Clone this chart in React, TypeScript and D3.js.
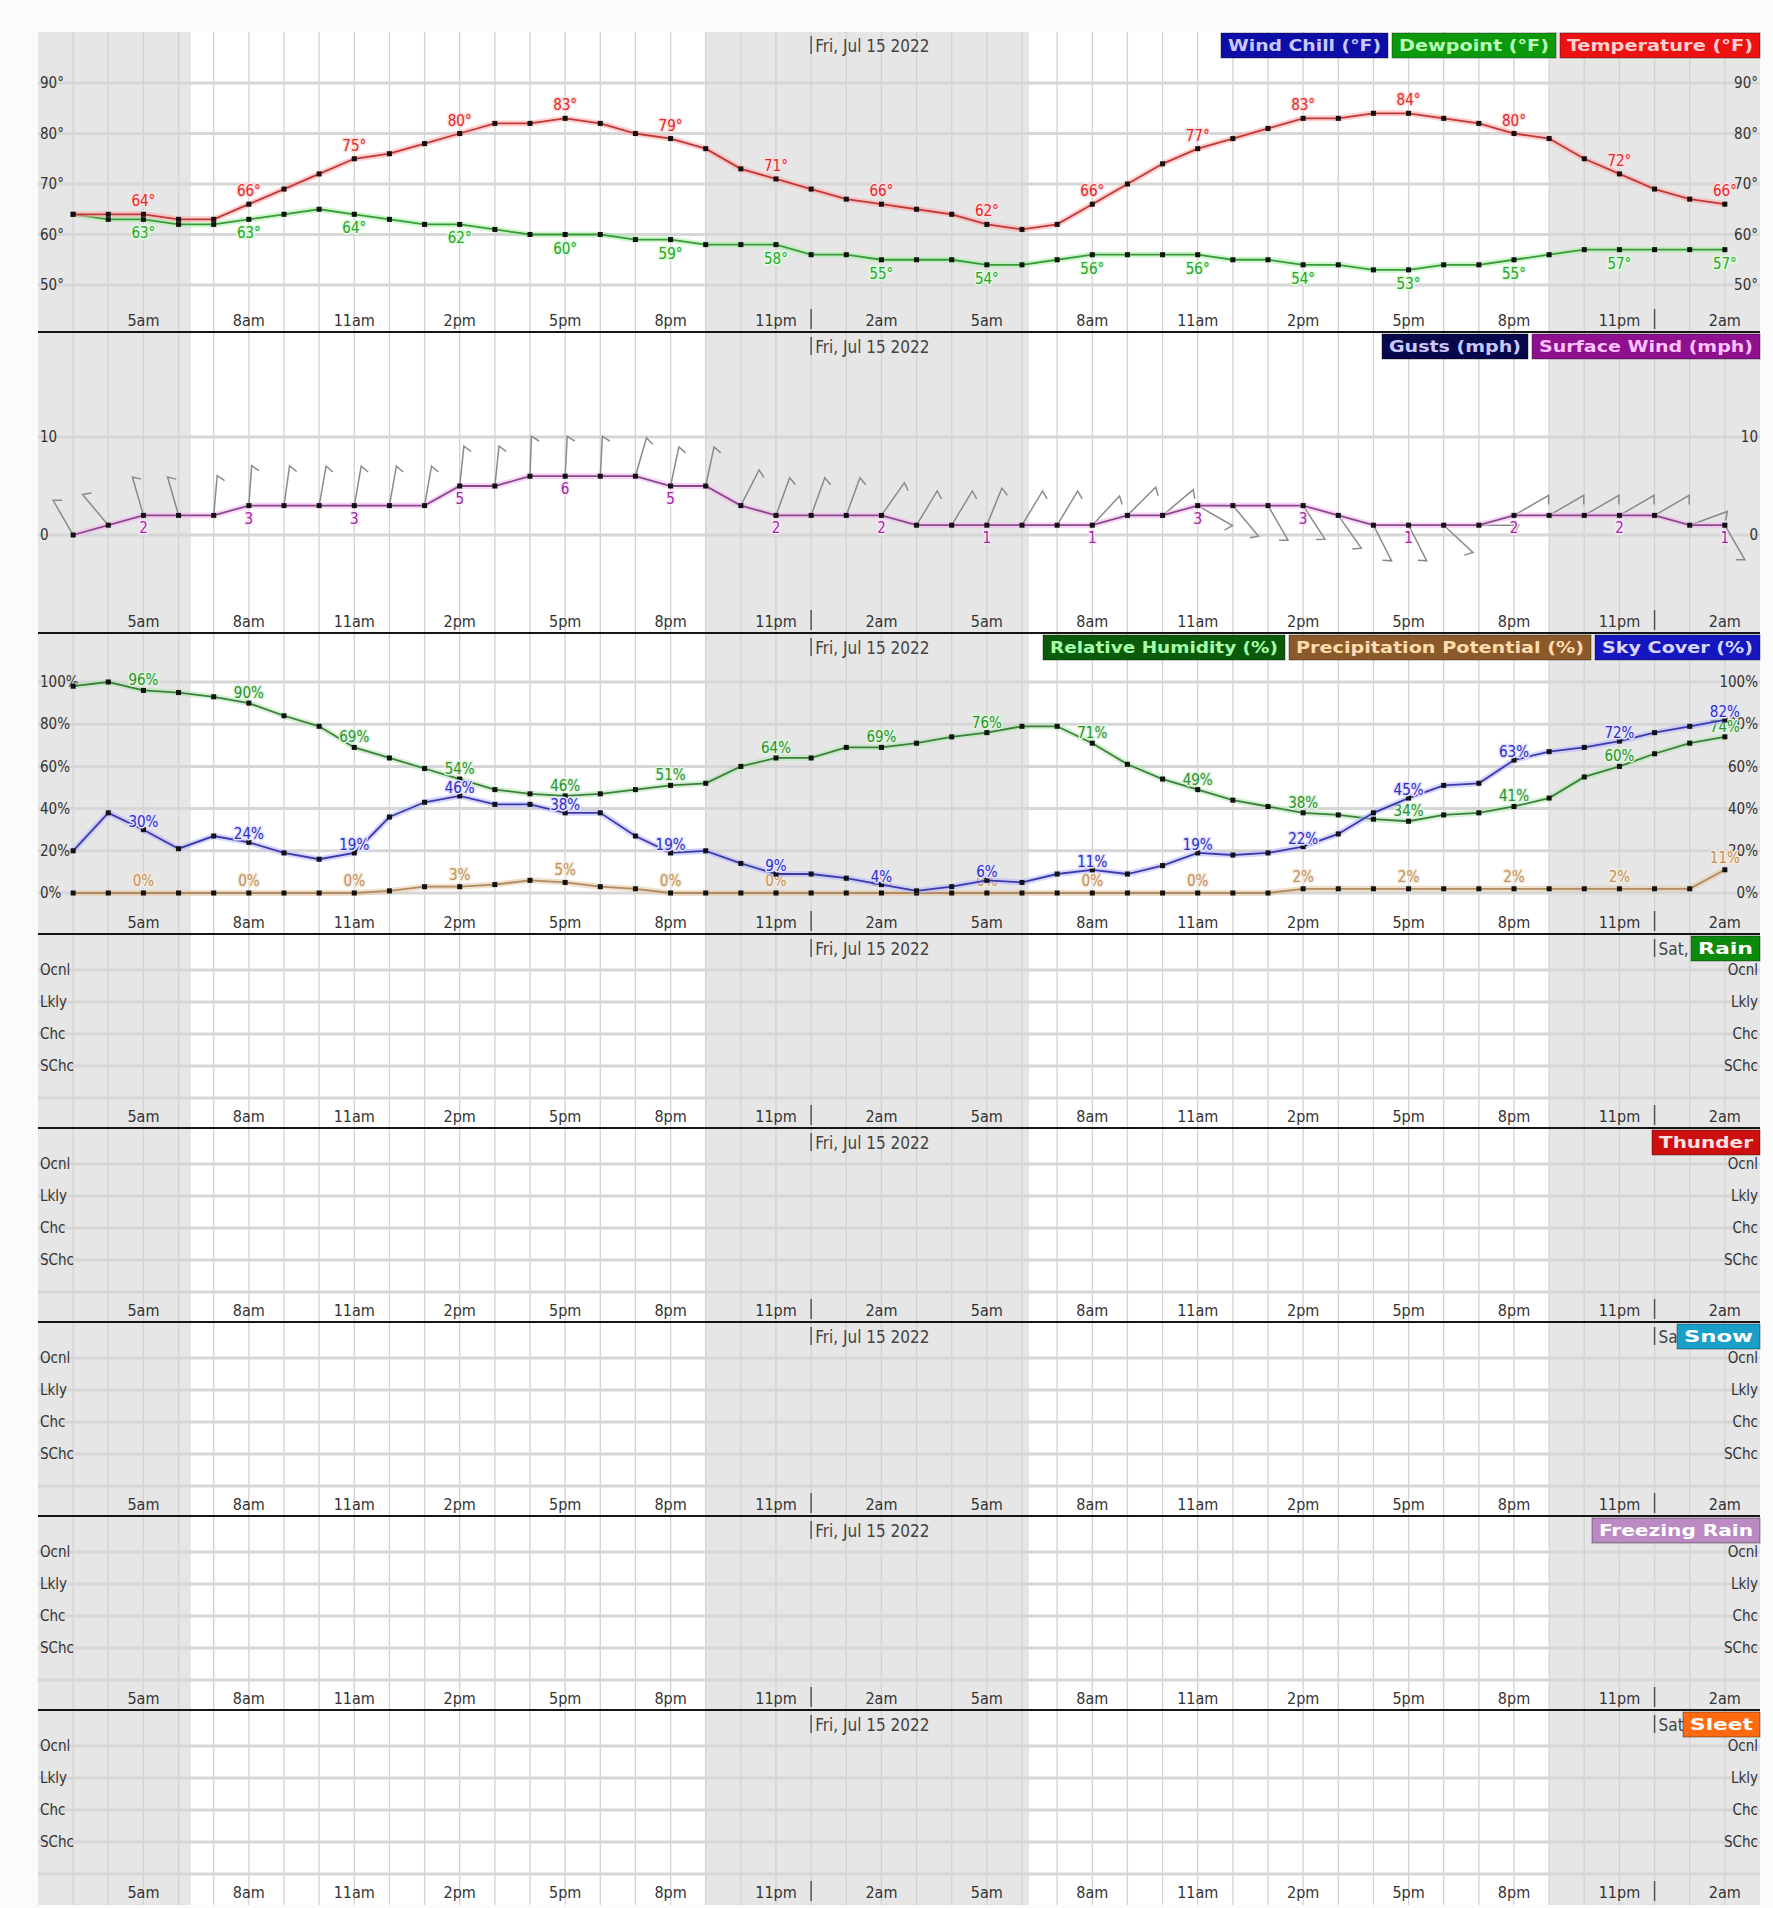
import React from "react";
import * as d3 from "d3";

// ---------- DATA (hourly, index 0 = 3am Fri) ----------
const temperature = [64, 64, 64, 63, 63, 66, 69, 72, 75, 76, 78, 80, 82, 82, 83, 82, 80, 79, 77, 73, 71, 69, 67, 66, 65, 64, 62, 61, 62, 66, 70, 74, 77, 79, 81, 83, 83, 84, 84, 83, 82, 80, 79, 75, 72, 69, 67, 66];
const dewpoint = [64, 63, 63, 62, 62, 63, 64, 65, 64, 63, 62, 62, 61, 60, 60, 60, 59, 59, 58, 58, 58, 56, 56, 55, 55, 55, 54, 54, 55, 56, 56, 56, 56, 55, 55, 54, 54, 53, 53, 54, 54, 55, 56, 57, 57, 57, 57, 57];
const windSpeed = [0, 1, 2, 2, 2, 3, 3, 3, 3, 3, 3, 5, 5, 6, 6, 6, 6, 5, 5, 3, 2, 2, 2, 2, 1, 1, 1, 1, 1, 1, 2, 2, 3, 3, 3, 3, 2, 1, 1, 1, 1, 2, 2, 2, 2, 2, 1, 1];
const windDirection = [330, 320, 344, 344, 5, 4, 8, 10, 10, 10, 10, 6, 6, 2, 3, 3, 16, 12, 12, 27, 20, 20, 20, 35, 31, 31, 22, 31, 31, 43, 45, 50, 120, 140, 150, 147, 145, 153, 153, 133, 90, 60, 60, 60, 60, 60, 70, 150];
const humidity = [98, 100, 96, 95, 93, 90, 84, 79, 69, 64, 59, 54, 49, 47, 46, 47, 49, 51, 52, 60, 64, 64, 69, 69, 71, 74, 76, 79, 79, 71, 61, 54, 49, 44, 41, 38, 37, 35, 34, 37, 38, 41, 45, 55, 60, 66, 71, 74];
const skyCover = [20, 38, 30, 21, 27, 24, 19, 16, 19, 36, 43, 46, 42, 42, 38, 38, 27, 19, 20, 14, 9, 9, 7, 4, 1, 3, 6, 5, 9, 11, 9, 13, 19, 18, 19, 22, 28, 38, 45, 51, 52, 63, 67, 69, 72, 76, 79, 82];
const precipPotential = [0, 0, 0, 0, 0, 0, 0, 0, 0, 1, 3, 3, 4, 6, 5, 3, 2, 0, 0, 0, 0, 0, 0, 0, 0, 0, 0, 0, 0, 0, 0, 0, 0, 0, 0, 2, 2, 2, 2, 2, 2, 2, 2, 2, 2, 2, 2, 11];

const tickHours = [2, 5, 8, 11, 14, 17, 20, 23, 26, 29, 32, 35, 38, 41, 44, 47];
const tickLabels = ["5am", "8am", "11am", "2pm", "5pm", "8pm", "11pm", "2am", "5am", "8am", "11am", "2pm", "5pm", "8pm", "11pm", "2am"];
const tempTicks = [50, 60, 70, 80, 90];
const windTicks = [0, 10];
const pctTicks = [0, 20, 40, 60, 80, 100];
const probLevels = ["SChc", "Chc", "Lkly", "Ocnl"];
const nightSpans: [number, number][] = [[-1, 3.35], [18, 27.2], [42, 48]];
const midnights = [21, 45];
const dayTexts = ["Fri, Jul 15 2022", "Sat, Jul 16 2022"];

// ---------- LAYOUT ----------
const W = 1773;
const H = 1908;
const X0 = 38;
const X1 = 1760;
const FONT = "'Liberation Sans Narrow','Arial Narrow','DejaVu Sans Condensed',sans-serif";
const x = d3.scaleLinear().domain([-1, 48]).range([X0, X1]);

type Legend = { label: string; width: number; fill: string; color: string };
type PanelDef = { top: number; h: number; kind: string; legends: Legend[] };

const panels: PanelDef[] = [
  { top: 32, h: 301, kind: "temp", legends: [
    { label: "Wind Chill (°F)", width: 167, fill: "#0d0da8", color: "#c8c8ff" },
    { label: "Dewpoint (°F)", width: 164, fill: "#0c9a0c", color: "#b8ffb8" },
    { label: "Temperature (°F)", width: 200, fill: "#ee1111", color: "#ffd0d0" },
  ] },
  { top: 333, h: 301, kind: "wind", legends: [
    { label: "Gusts (mph)", width: 146, fill: "#07074c", color: "#c8c8ff" },
    { label: "Surface Wind (mph)", width: 228, fill: "#8e108e", color: "#ffc0ff" },
  ] },
  { top: 634, h: 301, kind: "pct", legends: [
    { label: "Relative Humidity (%)", width: 242, fill: "#0b5a0b", color: "#a8ffa8" },
    { label: "Precipitation Potential (%)", width: 302, fill: "#8a5a2a", color: "#ffdcb0" },
    { label: "Sky Cover (%)", width: 165, fill: "#1616c0", color: "#d8d8ff" },
  ] },
  { top: 935, h: 194, kind: "prob", legends: [{ label: "Rain", width: 69, fill: "#0b8a0b", color: "#ffffff" }] },
  { top: 1129, h: 194, kind: "prob", legends: [{ label: "Thunder", width: 108, fill: "#cc1010", color: "#ffe0e0" }] },
  { top: 1323, h: 194, kind: "prob", legends: [{ label: "Snow", width: 83, fill: "#1aa0c8", color: "#ffffff" }] },
  { top: 1517, h: 194, kind: "prob", legends: [{ label: "Freezing Rain", width: 168, fill: "#bb8ac4", color: "#ffffff" }] },
  { top: 1711, h: 194, kind: "prob", legends: [{ label: "Sleet", width: 77, fill: "#ff6a10", color: "#ffffff" }] },
];

const hours = d3.range(48);

function Series({ values, y, halo, line, labelFill, labelHalo, suffix, labelDy }: any) {
  const gen = d3.line<number>().x((_, i) => x(i)).y((d) => y(d));
  const path = gen(values) || "";
  return (
    <g>
      <path d={path} fill="none" stroke={halo} strokeWidth={6} strokeOpacity={0.55} strokeLinejoin="round" />
      <path d={path} fill="none" stroke={line} strokeWidth={1.8} />
      {values.map((v: number, i: number) => (
        <rect key={i} x={x(i) - 2.5} y={y(v) - 2.5} width={5} height={5} fill="#111" />
      ))}
      {tickHours.map((t) => (
        <text key={"l" + t} x={x(t)} y={y(values[t]) + labelDy} textAnchor="middle" fontFamily={FONT} fontSize={15}
          fill={labelFill} stroke={labelHalo} strokeWidth={3} paintOrder="stroke" strokeLinejoin="round">
          {values[t] + suffix}
        </text>
      ))}
    </g>
  );
}

function barbPath(px: number, py: number, dir: number) {
  const L = 40, b = 9;
  const a = (dir * Math.PI) / 180;
  const tx = px + L * Math.sin(a), ty = py - L * Math.cos(a);
  const a2 = ((dir + 120) * Math.PI) / 180;
  const bx = tx + b * Math.sin(a2), by = ty - b * Math.cos(a2);
  return `M${px},${py}L${tx},${ty}L${bx},${by}`;
}

function Panel({ p, idx }: { p: PanelDef; idx: number }) {
  const top = p.top, bottom = p.top + p.h;
  let gridYs: { y: number; label: string }[] = [];
  let content: any = null;

  if (p.kind === "temp") {
    const y = d3.scaleLinear().domain([50, 90]).range([top + 253, top + 51]);
    gridYs = tempTicks.map((v) => ({ y: y(v), label: v + "°" }));
    content = (
      <g>
        <Series values={dewpoint} y={y} halo="#a8eea8" line="#3a9a3a" labelFill="#2ea02e" labelHalo="#dcffdc" suffix="°" labelDy={19} />
        <Series values={temperature} y={y} halo="#ffa8a8" line="#c03838" labelFill="#e02828" labelHalo="#ffdede" suffix="°" labelDy={-8} />
      </g>
    );
  } else if (p.kind === "wind") {
    const y = d3.scaleLinear().domain([0, 10]).range([top + 202, top + 104]);
    gridYs = windTicks.map((v) => ({ y: y(v), label: String(v) }));
    content = (
      <g>
        {windSpeed.map((v, i) => (
          <path key={"b" + i} d={barbPath(x(i), y(v), windDirection[i])} fill="none" stroke="#8a8a8a" strokeWidth={1.5} />
        ))}
        <Series values={windSpeed} y={y} halo="#f2b6f2" line="#8a4a8a" labelFill="#9a2a9a" labelHalo="#ffe6ff" suffix="" labelDy={18} />
      </g>
    );
  } else if (p.kind === "pct") {
    const y = d3.scaleLinear().domain([0, 100]).range([top + 259, top + 48]);
    gridYs = pctTicks.map((v) => ({ y: y(v), label: v + "%" }));
    content = (
      <g>
        <Series values={precipPotential} y={y} halo="#e2c9a4" line="#b08a60" labelFill="#c09060" labelHalo="#f6ecdc" suffix="%" labelDy={-7} />
        <Series values={humidity} y={y} halo="#b4e4b4" line="#3a803a" labelFill="#2e902e" labelHalo="#def5de" suffix="%" labelDy={-5} />
        <Series values={skyCover} y={y} halo="#b4b4ff" line="#3a3aaa" labelFill="#2c2cc8" labelHalo="#e2e2ff" suffix="%" labelDy={-3} />
      </g>
    );
  } else {
    const y = d3.scaleLinear().domain([0, 4]).range([top + 163, top + 35]);
    gridYs = [{ y: y(0), label: "" }, ...probLevels.map((l, i) => ({ y: y(i + 1), label: l }))];
  }

  // legends, right aligned
  let lx = X1;
  const legendBoxes = [...p.legends].reverse().map((lg) => {
    lx -= lg.width;
    const box = { ...lg, x: lx };
    lx -= 4;
    return box;
  });
  const clipId = "panelclip" + idx;

  return (
    <g>
      <defs>
        <clipPath id={clipId}>
          <rect x={X0} y={top} width={X1 - X0} height={p.h} />
        </clipPath>
      </defs>
      <rect x={X0} y={top} width={X1 - X0} height={p.h} fill="#ffffff" />
      {nightSpans.map(([a, b], i) => (
        <rect key={"n" + i} x={x(Math.max(a, -1))} y={top} width={x(Math.min(b, 48)) - x(Math.max(a, -1))} height={p.h} fill="#e6e6e6" />
      ))}
      {hours.map((t) => (
        <line key={"v" + t} x1={x(t)} x2={x(t)} y1={top} y2={bottom} stroke="#d2d2d2" strokeWidth={1.3} />
      ))}
      {gridYs.map((g, i) => (
        <line key={"h" + i} x1={X0} x2={X1} y1={g.y} y2={g.y} stroke="#d6d6d6" strokeWidth={3} />
      ))}
      {gridYs.map((g, i) => (
        <g key={"yl" + i} fontFamily={FONT} fontSize={15} fill="#333">
          <text x={X0 + 2} y={g.y} dy="0.35em">{g.label}</text>
          <text x={X1 - 2} y={g.y} dy="0.35em" textAnchor="end">{g.label}</text>
        </g>
      ))}
      {tickHours.map((t, i) => (
        <text key={"xl" + t} x={x(t)} y={bottom - 7} textAnchor="middle" fontFamily={FONT} fontSize={16} fill="#333">
          {tickLabels[i]}
        </text>
      ))}
      <g clipPath={`url(#${clipId})`}>
        {midnights.map((t, i) => (
          <g key={"m" + i}>
            <line x1={x(t)} x2={x(t)} y1={top + 4} y2={top + 22} stroke="#555" strokeWidth={1.5} />
            <line x1={x(t)} x2={x(t)} y1={bottom - 24} y2={bottom - 4} stroke="#555" strokeWidth={1.5} />
            <text x={x(t) + 4} y={top + 20} fontFamily={FONT} fontSize={17} fill="#444">{dayTexts[i]}</text>
          </g>
        ))}
      </g>
      {content}
      {legendBoxes.map((lg, i) => (
        <g key={"lg" + i}>
          <rect x={lg.x} y={top + 1} width={lg.width} height={25} fill={lg.fill} stroke="#111" strokeOpacity={0.4} strokeWidth={1} />
          <text x={lg.x + lg.width / 2} y={top + 19} textAnchor="middle" fontFamily={FONT} fontWeight="bold" fontSize={16}
            fill={lg.color} textLength={lg.width - 14} lengthAdjust="spacingAndGlyphs">{lg.label}</text>
        </g>
      ))}
      {bottom < 1900 ? <rect x={X0} y={bottom - 2} width={X1 - X0} height={5} fill="#151515" /> : null}
    </g>
  );
}

export default function App() {
  return (
    <svg width={W} height={H} viewBox={`0 0 ${W} ${H}`} style={{ position: "absolute", left: 0, top: 0, display: "block" }}>
      <rect x={0} y={0} width={W} height={H} fill="#fbfbfb" />
      {panels.map((p, i) => (
        <Panel key={i} p={p} idx={i} />
      ))}
    </svg>
  );
}
